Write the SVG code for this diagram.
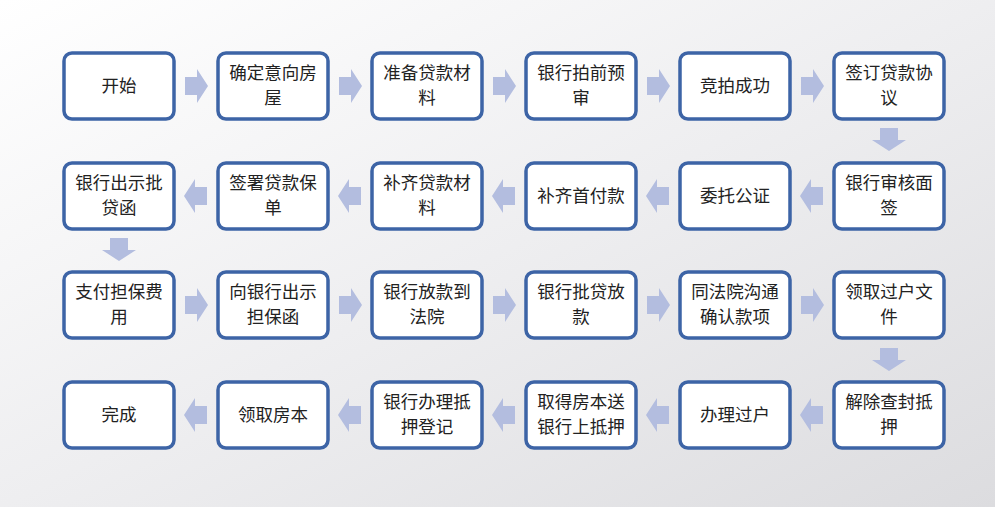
<svg xmlns="http://www.w3.org/2000/svg" width="995" height="507" viewBox="0 0 995 507">
<defs>
<linearGradient id="bg" x1="0" y1="0" x2="1" y2="1"><stop offset="0" stop-color="#ffffff"/><stop offset="0.5" stop-color="#eeeef0"/><stop offset="1" stop-color="#dcdcdf"/></linearGradient>
<path id="ar" d="M0,-9 H12 V-17 L23,0 L12,17 V9 H0 Z"/>
</defs>
<style>
.b{fill:#fff;stroke:#3d64a6;stroke-width:3.5}
.t{font-family:"Noto Sans CJK SC",sans-serif;font-size:17.5px;fill:#222;text-anchor:middle}
.a{fill:#b3bddf}
</style>
<rect width="995" height="507" fill="url(#bg)"/>
<g id="connectors" class="a">
<use href="#ar" x="185" y="86"/><use href="#ar" x="339" y="86"/><use href="#ar" x="493" y="86"/><use href="#ar" x="647" y="86"/><use href="#ar" x="801" y="86"/>
<use href="#ar" transform="translate(889,128) rotate(90)"/>
<use href="#ar" transform="translate(823,196) rotate(180)"/><use href="#ar" transform="translate(669,196) rotate(180)"/><use href="#ar" transform="translate(515,196) rotate(180)"/><use href="#ar" transform="translate(361,196) rotate(180)"/><use href="#ar" transform="translate(207,196) rotate(180)"/>
<use href="#ar" transform="translate(119,238) rotate(90)"/>
<use href="#ar" x="185" y="305"/><use href="#ar" x="339" y="305"/><use href="#ar" x="493" y="305"/><use href="#ar" x="647" y="305"/><use href="#ar" x="801" y="305"/>
<use href="#ar" transform="translate(889,348) rotate(90)"/>
<use href="#ar" transform="translate(823,415) rotate(180)"/><use href="#ar" transform="translate(669,415) rotate(180)"/><use href="#ar" transform="translate(515,415) rotate(180)"/><use href="#ar" transform="translate(361,415) rotate(180)"/><use href="#ar" transform="translate(207,415) rotate(180)"/>
</g>
<g id="n1"><rect class="b" x="64" y="53" width="110" height="66" rx="8"/><text class="t" x="119" y="92">开始</text></g>
<g id="n2"><rect class="b" x="218" y="53" width="110" height="66" rx="8"/><text class="t" x="273" y="79">确定意向房</text><text class="t" x="273" y="104">屋</text></g>
<g id="n3"><rect class="b" x="372" y="53" width="110" height="66" rx="8"/><text class="t" x="427" y="79">准备贷款材</text><text class="t" x="427" y="104">料</text></g>
<g id="n4"><rect class="b" x="526" y="53" width="110" height="66" rx="8"/><text class="t" x="581" y="79">银行拍前预</text><text class="t" x="581" y="104">审</text></g>
<g id="n5"><rect class="b" x="680" y="53" width="110" height="66" rx="8"/><text class="t" x="735" y="92">竞拍成功</text></g>
<g id="n6"><rect class="b" x="834" y="53" width="110" height="66" rx="8"/><text class="t" x="889" y="79">签订贷款协</text><text class="t" x="889" y="104">议</text></g>
<g id="n7"><rect class="b" x="834" y="163" width="110" height="66" rx="8"/><text class="t" x="889" y="189">银行审核面</text><text class="t" x="889" y="214">签</text></g>
<g id="n8"><rect class="b" x="680" y="163" width="110" height="66" rx="8"/><text class="t" x="735" y="202">委托公证</text></g>
<g id="n9"><rect class="b" x="526" y="163" width="110" height="66" rx="8"/><text class="t" x="581" y="202">补齐首付款</text></g>
<g id="n10"><rect class="b" x="372" y="163" width="110" height="66" rx="8"/><text class="t" x="427" y="189">补齐贷款材</text><text class="t" x="427" y="214">料</text></g>
<g id="n11"><rect class="b" x="218" y="163" width="110" height="66" rx="8"/><text class="t" x="273" y="189">签署贷款保</text><text class="t" x="273" y="214">单</text></g>
<g id="n12"><rect class="b" x="64" y="163" width="110" height="66" rx="8"/><text class="t" x="119" y="189">银行出示批</text><text class="t" x="119" y="214">贷函</text></g>
<g id="n13"><rect class="b" x="64" y="272" width="110" height="66" rx="8"/><text class="t" x="119" y="298">支付担保费</text><text class="t" x="119" y="323">用</text></g>
<g id="n14"><rect class="b" x="218" y="272" width="110" height="66" rx="8"/><text class="t" x="273" y="298">向银行出示</text><text class="t" x="273" y="323">担保函</text></g>
<g id="n15"><rect class="b" x="372" y="272" width="110" height="66" rx="8"/><text class="t" x="427" y="298">银行放款到</text><text class="t" x="427" y="323">法院</text></g>
<g id="n16"><rect class="b" x="526" y="272" width="110" height="66" rx="8"/><text class="t" x="581" y="298">银行批贷放</text><text class="t" x="581" y="323">款</text></g>
<g id="n17"><rect class="b" x="680" y="272" width="110" height="66" rx="8"/><text class="t" x="735" y="298">同法院沟通</text><text class="t" x="735" y="323">确认款项</text></g>
<g id="n18"><rect class="b" x="834" y="272" width="110" height="66" rx="8"/><text class="t" x="889" y="298">领取过户文</text><text class="t" x="889" y="323">件</text></g>
<g id="n19"><rect class="b" x="834" y="382" width="110" height="66" rx="8"/><text class="t" x="889" y="408">解除查封抵</text><text class="t" x="889" y="433">押</text></g>
<g id="n20"><rect class="b" x="680" y="382" width="110" height="66" rx="8"/><text class="t" x="735" y="421">办理过户</text></g>
<g id="n21"><rect class="b" x="526" y="382" width="110" height="66" rx="8"/><text class="t" x="581" y="408">取得房本送</text><text class="t" x="581" y="433">银行上抵押</text></g>
<g id="n22"><rect class="b" x="372" y="382" width="110" height="66" rx="8"/><text class="t" x="427" y="408">银行办理抵</text><text class="t" x="427" y="433">押登记</text></g>
<g id="n23"><rect class="b" x="218" y="382" width="110" height="66" rx="8"/><text class="t" x="273" y="421">领取房本</text></g>
<g id="n24"><rect class="b" x="64" y="382" width="110" height="66" rx="8"/><text class="t" x="119" y="421">完成</text></g>
</svg>
